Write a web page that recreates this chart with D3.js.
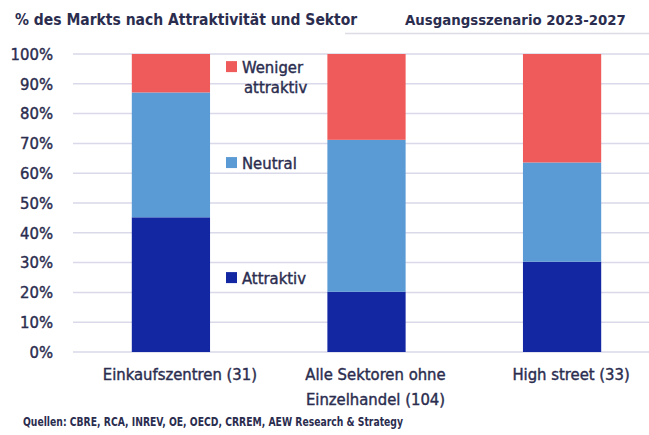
<!DOCTYPE html>
<html>
<head>
<meta charset="utf-8">
<script src="https://cdn.jsdelivr.net/npm/d3@7"></script>
<style>
  body { margin: 0; background: #fff; }
  svg text { font-family: "DejaVu Sans Condensed", "DejaVu Sans", sans-serif; fill: #2b2d4f; }
  .medium { stroke: #2b2d4f; stroke-width: 0.4px; }
</style>
</head>
<body>
<div id="chart"></div>
<script>
// data
const categories = ["Einkaufszentren (31)", "Alle Sektoren ohne\nEinzelhandel (104)", "High street (33)"];
const attraktiv = [45.2, 20.2, 30.3];
const neutral = [41.9, 51.0, 33.3];
const weniger = [12.9, 28.8, 36.4];
const yTicks = [0, 10, 20, 30, 40, 50, 60, 70, 80, 90, 100];
const seriesNames = ["Attraktiv", "Neutral", "Weniger attraktiv"];
const legendAt = [24.8, 63.4, 95.6];

const width = 649, height = 435;
const colors = ["#1427a3", "#5b9bd5", "#ef5b5b"];

const svg = d3.select("#chart").append("svg")
    .attr("width", width)
    .attr("height", height);

// titles
svg.append("text")
    .attr("x", 15).attr("y", 25)
    .attr("font-size", 15.5).attr("font-weight", "bold")
    .text("% des Markts nach Attraktivität und Sektor");
svg.append("text")
    .attr("x", 405).attr("y", 25)
    .attr("font-size", 14.8).attr("font-weight", "bold")
    .text("Ausgangsszenario 2023-2027");
svg.append("line")
    .attr("x1", 345).attr("x2", 649)
    .attr("y1", 33.5).attr("y2", 33.5)
    .attr("stroke", "#dcdce4").attr("stroke-width", 1.5);

const x = d3.scaleBand()
    .domain(d3.range(categories.length))
    .range([79, 654])
    .paddingInner(0.6).paddingOuter(0.27);

const y = d3.scaleLinear().domain([0, 100]).range([352, 54]);

// gridlines
svg.append("g")
    .selectAll("line")
    .data(yTicks)
    .enter().append("line")
    .attr("x1", 73).attr("x2", 649)
    .attr("y1", d => y(d)).attr("y2", d => y(d))
    .attr("stroke", "#d9d9ea").attr("stroke-width", 1.5);

// y axis labels
const yAxis = svg.append("g")
    .attr("transform", "translate(57,0)")
    .call(d3.axisLeft(y).tickValues(yTicks).tickFormat(d => d + "%").tickSize(0).tickPadding(4));
yAxis.select(".domain").remove();
yAxis.selectAll("text")
    .attr("font-size", 16.5)
    .attr("class", "medium")
    .style("font-family", "'DejaVu Sans Condensed', sans-serif")
    .attr("fill", "#3a3c5c");

// stacked bars
const rows = categories.map((c, i) => ({ i: i, a: attraktiv[i], n: neutral[i], w: weniger[i] }));
const stack = d3.stack().keys(["a", "n", "w"])(rows);

svg.append("g")
    .selectAll("g")
    .data(stack)
    .enter().append("g")
    .attr("fill", (d, k) => colors[k])
    .selectAll("rect")
    .data(d => d)
    .enter().append("rect")
    .attr("x", d => x(d.data.i))
    .attr("width", x.bandwidth())
    .attr("y", d => y(d[1]))
    .attr("height", d => y(d[0]) - y(d[1]));

// x labels
const xl = svg.append("g")
    .selectAll("text")
    .data(categories)
    .enter().append("text")
    .attr("class", "medium")
    .attr("text-anchor", "middle")
    .attr("font-size", 16.5)
    .attr("x", (d, i) => x(i) + x.bandwidth() / 2 + 9)
    .attr("y", 380);
xl.selectAll("tspan")
    .data(d => d.split("\n"))
    .enter().append("tspan")
    .attr("x", function() { return d3.select(this.parentNode).attr("x"); })
    .attr("dy", (d, i) => i === 0 ? 0 : 25)
    .text(d => d);

// legend
const legend = svg.append("g")
    .selectAll("g")
    .data(seriesNames)
    .enter().append("g")
    .attr("transform", (d, i) => `translate(226,${y(legendAt[i])})`);
legend.append("rect")
    .attr("x", 0).attr("y", -6)
    .attr("width", 11).attr("height", 11)
    .attr("fill", (d, i) => colors[i]);
const lt = legend.append("text")
    .attr("class", "medium")
    .attr("x", 16).attr("y", 6)
    .attr("font-size", 16.5);
lt.selectAll("tspan")
    .data(d => d === "Weniger attraktiv" ? ["Weniger", "attraktiv"] : [d])
    .enter().append("tspan")
    .attr("x", (d, i) => i === 0 ? 16 : 18)
    .attr("dy", (d, i) => i === 0 ? 0 : 20)
    .text(d => d);

// source
svg.append("text")
    .attr("x", 23).attr("y", 426)
    .attr("font-size", 11.5).attr("font-weight", "bold")
    .attr("textLength", 380).attr("lengthAdjust", "spacingAndGlyphs")
    .text("Quellen: CBRE, RCA, INREV, OE, OECD, CRREM, AEW Research & Strategy");
</script>
</body>
</html>
